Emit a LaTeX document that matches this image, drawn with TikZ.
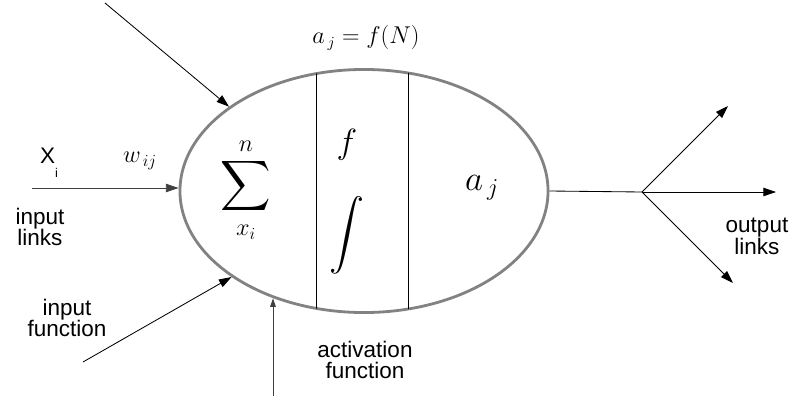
\documentclass[tikz,border=0pt]{standalone}
\usepackage{amsmath}
\usepackage{fontspec}
\setmainfont{Liberation Sans}
\usetikzlibrary{arrows.meta,shapes.geometric,positioning,calc}
\definecolor{colorCELL}{RGB}{130,130,130}
\colorlet{colorIN}{darkgray}
\tikzset{
   every path/.style={>={Triangle[length=9pt,width=6pt]}},
   link/.style={->,draw=black,line width=0.6pt},
   glink/.style={->,draw=colorIN,line width=0.6pt},
   lbl/.style={align=center,inner sep=0pt,font=\fontsize{16}{15.5}\selectfont},
   mth/.style={inner sep=0pt,font=\fontsize{24}{26}\selectfont},
}

\begin{document}
\begin{tikzpicture}[x=0.025cm,y=-0.025cm,cell/.style={ellipse, draw=colorCELL, line width=2pt, inner sep=0pt, minimum width=9.2cm, minimum height=6.075cm}]
  \useasboundingbox (0,0) rectangle (792,396);

  \node [cell] (neuron) at (364,191) {};
  \begin{scope}
   \clip (364,191) ellipse [x radius=4.6cm, y radius=3.04cm];
   \draw [line width=0.6pt] (316,60) -- (316,330);
   \draw [line width=0.6pt] (408,60) -- (408,330);
  \end{scope}

  \node [mth] (sum) at (246,190) {$\displaystyle\sum\limits_{x_i}^{n}$};
  \node [mth] (f) at (347,145) {$f$};
  \node [mth] (int) at (347,235) {$\displaystyle\int$};
  \node [mth] (aj) at (482,188) {$a_{\,j}$};
  \node [inner sep=0pt,font=\fontsize{16}{17}\selectfont] (aeq) at (366,38) {$a_{\,j} = f(N)$};

  \node [lbl,font=\fontsize{16}{16}\selectfont] (xin) at (49,163) {X\raisebox{-1.2ex}{\fontsize{9}{9}\selectfont i}};
  \node [inner sep=0pt,font=\fontsize{17}{18}\selectfont] (wij) at (140,161) {$w_{\,ij}$};
  \node [lbl] (inlinks) at (40,227) {input\\links};
  \node [lbl] (infunc) at (67,318) {input\\function};
  \node [lbl] (act) at (365,360) {activation\\function};
  \node [lbl] (outlinks) at (757,236) {output\\links};

  \coordinate (in1) at (32,188);
  \coordinate (in2) at (105,3);
  \coordinate (in3) at (83,362);
  \coordinate (in4) at (273,396);
  \coordinate (split) at (642,192);
  \coordinate (out1) at (728,106);
  \coordinate (out2) at (776,192);
  \coordinate (out3) at (733,283);

  \draw [glink] (in1) -- (in1 -| neuron.west);
  \draw [link] (in2) -- (neuron.148);
  \draw [link] (in3) -- (neuron.213);
  \draw [glink, >={Triangle[length=6pt,width=4pt]}] (in4) -- (in4 |- neuron.230);

  \draw [line width=0.6pt] (neuron.east) -- (split);
  \draw [link] (split) -- (out1);
  \draw [link] (split) -- (out2);
  \draw [link] (split) -- (out3);
\end{tikzpicture}
\end{document}
